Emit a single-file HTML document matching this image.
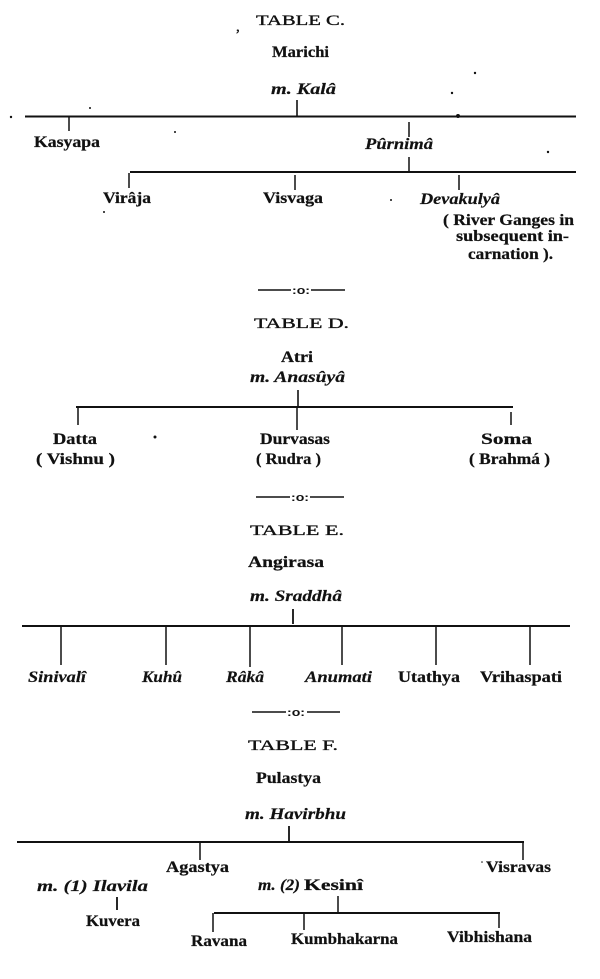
<!DOCTYPE html>
<html><head><meta charset="utf-8"><style>
html,body{margin:0;padding:0;background:#fff;}
svg{display:block;}
.h{font-family:"Liberation Serif",serif;font-size:15px;fill:#111;stroke:#111;stroke-width:0.35;}
.n{font-family:"Liberation Serif",serif;font-weight:bold;font-size:16px;fill:#111;stroke:#111;stroke-width:0.25;}
.i{font-family:"Liberation Serif",serif;font-weight:bold;font-style:italic;font-size:16px;fill:#111;stroke:#111;stroke-width:0.2;}
.s{font-family:"Liberation Sans",sans-serif;font-size:11px;fill:#111;font-weight:bold;}
line{stroke:#111;}
</style></head><body>
<svg width="600" height="979" viewBox="0 0 600 979" xmlns="http://www.w3.org/2000/svg">
<!-- TABLE C -->
<text class="h" x="236" y="31">,</text>
<text class="h" x="256" y="25" textLength="89" lengthAdjust="spacingAndGlyphs">TABLE C.</text>
<text class="n" x="272" y="57" textLength="57" lengthAdjust="spacingAndGlyphs">Marichi</text>
<text class="i" x="271" y="94" textLength="65" lengthAdjust="spacingAndGlyphs">m. Kalâ</text>
<line x1="297" y1="100" x2="297" y2="117" stroke-width="1.6"/>
<line x1="25" y1="116.5" x2="576" y2="116.5" stroke-width="2"/>
<line x1="69" y1="117" x2="69" y2="131" stroke-width="1.5"/>
<text class="n" x="34" y="147" textLength="66" lengthAdjust="spacingAndGlyphs">Kasyapa</text>
<line x1="409" y1="122" x2="409" y2="137" stroke-width="1.5"/>
<text class="i" x="365" y="149" textLength="68" lengthAdjust="spacingAndGlyphs">Pûrnimâ</text>
<line x1="409" y1="157" x2="409" y2="172" stroke-width="1.5"/>
<line x1="130" y1="172" x2="576" y2="172" stroke-width="2"/>
<line x1="129" y1="173" x2="129" y2="188" stroke-width="1.5"/>
<text class="n" x="103" y="203" textLength="48" lengthAdjust="spacingAndGlyphs">Virâja</text>
<line x1="295" y1="175" x2="295" y2="190" stroke-width="1.5"/>
<text class="n" x="263" y="203" textLength="60" lengthAdjust="spacingAndGlyphs">Visvaga</text>
<line x1="459" y1="175" x2="459" y2="190" stroke-width="1.5"/>
<text class="i" x="420" y="204" textLength="80" lengthAdjust="spacingAndGlyphs">Devakulyâ</text>
<text class="n" x="443" y="225" textLength="131" lengthAdjust="spacingAndGlyphs">( River Ganges in</text>
<text class="n" x="456" y="241" textLength="113" lengthAdjust="spacingAndGlyphs">subsequent in-</text>
<text class="n" x="468" y="259" textLength="85" lengthAdjust="spacingAndGlyphs">carnation ).</text>
<circle cx="11" cy="117" r="1.2" fill="#111"/>
<circle cx="90" cy="108" r="1" fill="#111"/>
<circle cx="175" cy="132" r="1" fill="#111"/>
<circle cx="475" cy="73" r="1.2" fill="#111"/>
<circle cx="452" cy="93" r="1.2" fill="#111"/>
<circle cx="458" cy="116" r="2" fill="#111"/>
<circle cx="548" cy="152" r="1.2" fill="#111"/>
<circle cx="104" cy="212" r="1" fill="#111"/>
<circle cx="391" cy="200" r="1" fill="#111"/>

<!-- separator -->
<line x1="258" y1="290" x2="291" y2="290" stroke-width="1.5"/>
<text class="s" x="292" y="294" textLength="18" lengthAdjust="spacingAndGlyphs">:o:</text>
<line x1="311" y1="290" x2="345" y2="290" stroke-width="1.5"/>

<!-- TABLE D -->
<text class="h" x="254" y="328" textLength="95" lengthAdjust="spacingAndGlyphs">TABLE D.</text>
<text class="n" x="281" y="362" textLength="32" lengthAdjust="spacingAndGlyphs">Atri</text>
<text class="i" x="250" y="382" textLength="95" lengthAdjust="spacingAndGlyphs">m. Anasûyâ</text>
<line x1="298" y1="390" x2="298" y2="407" stroke-width="1.6"/>
<line x1="76" y1="407" x2="513" y2="407" stroke-width="2"/>
<line x1="78" y1="408" x2="78" y2="425" stroke-width="1.5"/>
<line x1="297" y1="408" x2="297" y2="430" stroke-width="1.5"/>
<line x1="511" y1="412" x2="511" y2="425" stroke-width="1.5"/>
<text class="n" x="53" y="444" textLength="44" lengthAdjust="spacingAndGlyphs">Datta</text>
<text class="n" x="36" y="464" textLength="79" lengthAdjust="spacingAndGlyphs">( Vishnu )</text>
<text class="n" x="260" y="444" textLength="70" lengthAdjust="spacingAndGlyphs">Durvasas</text>
<text class="n" x="256" y="464" textLength="65" lengthAdjust="spacingAndGlyphs">( Rudra )</text>
<text class="n" x="481" y="444" textLength="51" lengthAdjust="spacingAndGlyphs">Soma</text>
<text class="n" x="469" y="464" textLength="81" lengthAdjust="spacingAndGlyphs">( Brahmá )</text>
<circle cx="155" cy="437" r="1.5" fill="#111"/>

<!-- separator -->
<line x1="256" y1="497" x2="290" y2="497" stroke-width="1.5"/>
<text class="s" x="291" y="501" textLength="18" lengthAdjust="spacingAndGlyphs">:o:</text>
<line x1="310" y1="497" x2="344" y2="497" stroke-width="1.5"/>

<!-- TABLE E -->
<text class="h" x="250" y="535" textLength="94" lengthAdjust="spacingAndGlyphs">TABLE E.</text>
<text class="n" x="248" y="567" textLength="76" lengthAdjust="spacingAndGlyphs">Angirasa</text>
<text class="i" x="250" y="601" textLength="92" lengthAdjust="spacingAndGlyphs">m. Sraddhâ</text>
<line x1="293" y1="609" x2="293" y2="624" stroke-width="1.8"/>
<line x1="22" y1="626" x2="570" y2="626" stroke-width="2"/>
<line x1="61" y1="627" x2="61" y2="665" stroke-width="1.5"/>
<line x1="166" y1="627" x2="166" y2="665" stroke-width="1.5"/>
<line x1="250" y1="627" x2="250" y2="667" stroke-width="1.5"/>
<line x1="342" y1="627" x2="342" y2="665" stroke-width="1.5"/>
<line x1="436" y1="627" x2="436" y2="665" stroke-width="1.5"/>
<line x1="530" y1="627" x2="530" y2="665" stroke-width="1.5"/>
<text class="i" x="28" y="682" textLength="58" lengthAdjust="spacingAndGlyphs">Sinivalî</text>
<text class="i" x="142" y="682" textLength="40" lengthAdjust="spacingAndGlyphs">Kuhû</text>
<text class="i" x="226" y="682" textLength="38" lengthAdjust="spacingAndGlyphs">Râkâ</text>
<text class="i" x="305" y="682" textLength="67" lengthAdjust="spacingAndGlyphs">Anumati</text>
<text class="n" x="398" y="682" textLength="62" lengthAdjust="spacingAndGlyphs">Utathya</text>
<text class="n" x="480" y="682" textLength="82" lengthAdjust="spacingAndGlyphs">Vrihaspati</text>

<!-- separator -->
<line x1="252" y1="712" x2="286" y2="712" stroke-width="1.5"/>
<text class="s" x="287" y="716" textLength="18" lengthAdjust="spacingAndGlyphs">:o:</text>
<line x1="307" y1="712" x2="340" y2="712" stroke-width="1.5"/>

<!-- TABLE F -->
<text class="h" x="248" y="750" textLength="90" lengthAdjust="spacingAndGlyphs">TABLE F.</text>
<text class="n" x="256" y="783" textLength="65" lengthAdjust="spacingAndGlyphs">Pulastya</text>
<text class="i" x="245" y="819" textLength="101" lengthAdjust="spacingAndGlyphs">m. Havirbhu</text>
<line x1="289" y1="826" x2="289" y2="841" stroke-width="1.8"/>
<line x1="17" y1="842" x2="524" y2="842" stroke-width="2"/>
<line x1="200" y1="843" x2="200" y2="860" stroke-width="1.5"/>
<text class="n" x="166" y="872" textLength="63" lengthAdjust="spacingAndGlyphs">Agastya</text>
<line x1="523" y1="841" x2="523" y2="860" stroke-width="1.5"/>
<text class="n" x="486" y="872" textLength="65" lengthAdjust="spacingAndGlyphs">Visravas</text>
<circle cx="482" cy="862" r="0.8" fill="#111"/>
<text class="i" x="37" y="891" textLength="111" lengthAdjust="spacingAndGlyphs">m. (1) Ilavila</text>
<line x1="117" y1="897" x2="117" y2="910" stroke-width="1.8"/>
<text class="n" x="86" y="926" textLength="54" lengthAdjust="spacingAndGlyphs">Kuvera</text>
<text class="i" x="258" y="890" textLength="42" lengthAdjust="spacingAndGlyphs">m. (2)</text>
<text class="n" x="304" y="890" textLength="59" lengthAdjust="spacingAndGlyphs">Kesinî</text>
<line x1="338" y1="896" x2="338" y2="913" stroke-width="1.5"/>
<line x1="214" y1="913" x2="500" y2="913" stroke-width="2"/>
<line x1="213" y1="913" x2="213" y2="932" stroke-width="1.5"/>
<line x1="304" y1="913" x2="304" y2="930" stroke-width="1.5"/>
<line x1="499" y1="913" x2="499" y2="928" stroke-width="1.5"/>
<text class="n" x="191" y="946" textLength="56" lengthAdjust="spacingAndGlyphs">Ravana</text>
<text class="n" x="291" y="944" textLength="107" lengthAdjust="spacingAndGlyphs">Kumbhakarna</text>
<text class="n" x="447" y="942" textLength="85" lengthAdjust="spacingAndGlyphs">Vibhishana</text>
</svg>
</body></html>
